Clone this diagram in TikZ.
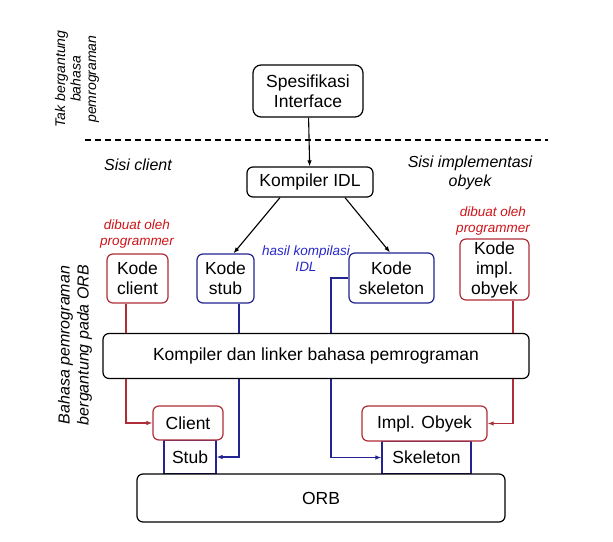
\documentclass[tikz,border=0pt]{standalone}
\usepackage{fontspec}
\setmainfont{Liberation Sans}
\usetikzlibrary{positioning,arrows.meta}
\definecolor{kodered}{RGB}{175,45,55}
\definecolor{labelred}{RGB}{205,20,25}
\definecolor{kodeblue}{RGB}{35,35,145}
\definecolor{labelblue}{RGB}{40,40,200}

\begin{document}
\begin{tikzpicture}[x=1pt,y=-1pt,
    box/.style={draw, line width=1.2pt, rounded corners=6pt, fill=white, align=center,
      inner sep=0pt, font=\fontsize{17.5}{20}\selectfont},
    redbox/.style={box, draw=kodered},
    bluebox/.style={box, draw=kodeblue},
    flatbox/.style={box, draw=kodeblue, rounded corners=0pt},
    note/.style={font=\itshape\fontsize{13.5}{16}\selectfont, align=center},
    side/.style={font=\itshape\fontsize{16}{19}\selectfont, align=center},
    tip/.style={-{Latex[length=6pt,width=4.5pt]}},
    redline/.style={draw=kodered, line width=1.1pt},
    blueline/.style={draw=kodeblue, line width=1.1pt}]

 \useasboundingbox (0,0) rectangle (613,541);

 % atas: spesifikasi dan kompiler IDL
 \node[box, rounded corners=8pt, minimum width=110, minimum height=52] (spec) at (308,91) {Spesifikasi\\Interface};
 \node[box, minimum width=126, minimum height=30] (idl) at (310,182) {Kompiler IDL};
 \coordinate (dashL) at (85,140);
 \coordinate (dashR) at (548,140);
 \draw[line width=1.1pt, dash pattern=on 6pt off 4pt] (dashL) -- (dashR);
 \draw[line width=1.1pt, tip] (spec) -- (idl);

 \node[side, font=\itshape\fontsize{14}{15.5}\selectfont, rotate=90] (takorb) at (77,79) {Tak bergantung\\bahasa\\pemrograman};
 \node[side] (sisiclient) at (138,165) {Sisi client};
 \node[side] (sisiimpl) at (470,173) {Sisi implementasi\\obyek};

 % kode-kode
 \node[note, text=labelred] (byprog1) at (137,234) {dibuat oleh\\programmer};
 \node[note, text=labelred] (byprog2) at (493,221) {dibuat oleh\\programmer};
 \node[note, text=labelblue] (hasil) at (306,259) {hasil kompilasi\\IDL};

 \node[redbox, minimum width=61, minimum height=49] (kclient) at (137.5,278.5) {Kode\\client};
 \node[bluebox, minimum width=57, minimum height=49] (kstub) at (225.5,278.5) {Kode\\stub};
 \node[bluebox, minimum width=85, minimum height=50] (kskel) at (391.5,278) {Kode\\skeleton};
 \node[redbox, minimum width=69, minimum height=61] (kimpl) at (494.5,269.5) {Kode\\impl.\\obyek};

 \draw[line width=1.1pt, tip] ([xshift=-30pt]idl.south) -- ([xshift=8pt]kstub.north);
 \draw[line width=1.1pt, tip] ([xshift=35pt]idl.south) -- ([xshift=-1.5pt]kskel.north);

 \node[box, minimum width=426, minimum height=45] (link) at (316,356) {Kompiler dan linker bahasa pemrograman};
 \node[side, rotate=90] (orbside) at (75,345) {Bahasa pemrograman\\bergantung pada ORB};

 % bawah: stub, skeleton, ORB
 \node[flatbox, minimum width=52, minimum height=34] (stub) at (190,457) {Stub};
 \node[flatbox, minimum width=89, minimum height=33] (skel) at (426.5,457.5) {Skeleton};
 \node[redbox, minimum width=70, minimum height=34] (client) at (188,423) {Client};
 \node[redbox, minimum width=125, minimum height=35] (impl) at (424.5,423.5) {Impl. Obyek};
 \node[box, minimum width=368, minimum height=48] (orb) at (321,498) {ORB};

 \coordinate (clientx) at (126,0);
 \coordinate (stubx) at (239,0);
 \coordinate (skelx) at (331,0);
 \coordinate (implx) at (513,0);

 \draw[redline] (clientx |- kclient.south) -- (clientx |- link.north);
 \draw[redline, tip] (clientx |- link.south) |- (client.west);
 \draw[blueline] (stubx |- kstub.south) -- (stubx |- link.north);
 \draw[blueline, tip] (stubx |- link.south) |- (stub.east);
 \draw[blueline] (kskel.west) -| (skelx |- link.north);
 \draw[blueline, tip] (skelx |- link.south) |- (skel.west);
 \draw[redline] (implx |- kimpl.south) -- (implx |- link.north);
 \draw[redline, tip] (implx |- link.south) |- (impl.east);

\end{tikzpicture}
\end{document}
